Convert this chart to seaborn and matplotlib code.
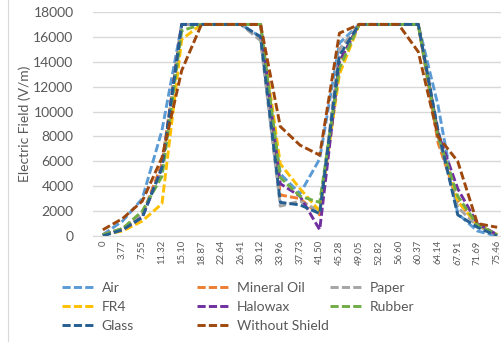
import matplotlib
matplotlib.use("Agg")
import matplotlib.pyplot as plt
import seaborn as sns
import pandas as pd
import numpy as np

positions = ["0", "3.77", "7.55", "11.32", "15.10", "18.87", "22.64", "26.41", "30.12",
             "33.96", "37.73", "41.50", "45.28", "49.05", "52.82", "56.60", "60.37",
             "64.14", "67.91", "71.69", "75.46"]

air = [100, 1200, 3000, 8500, 17000, 17000, 17000, 17000, 16000, 5000, 3400, 6200,
       15500, 17000, 17000, 17000, 17000, 10500, 1800, 400, 0]
mineral_oil = [100, 600, 1700, 5800, 17000, 17000, 17000, 17000, 17000, 3300, 3000, 1700,
               14000, 17000, 17000, 17000, 17000, 7500, 2800, 900, 100]
paper = [100, 600, 1800, 5200, 17000, 17000, 17000, 17000, 15700, 2400, 2800, 2000,
         15000, 17000, 17000, 17000, 17000, 8000, 2300, 800, 100]
fr4 = [100, 400, 1200, 2600, 15800, 17000, 17000, 17000, 17000, 5800, 3800, 2000,
       13000, 17000, 17000, 17000, 17000, 8200, 2800, 900, 100]
halowax = [100, 500, 1500, 5500, 17000, 17000, 17000, 17000, 17000, 4200, 3200, 500,
           14000, 17000, 17000, 17000, 17000, 8300, 3800, 1000, 100]
rubber = [100, 600, 2000, 4800, 16500, 17000, 17000, 17000, 17000, 4700, 3200, 2700,
          13500, 17000, 17000, 17000, 17000, 8000, 3200, 900, 100]
glass = [0, 500, 1500, 5500, 17000, 17000, 17000, 17000, 16000, 2700, 2500, 1800,
         14500, 17000, 17000, 17000, 17000, 8500, 1700, 700, 0]
without_shield = [500, 1400, 2800, 6300, 13300, 17000, 17000, 17000, 17000, 8800, 7300, 6500,
                  16300, 17000, 17000, 17000, 14800, 8000, 6000, 1000, 700]

series_names = ["Air", "Mineral Oil", "Paper", "FR4", "Halowax", "Rubber", "Glass", "Without Shield"]
series_values = [air, mineral_oil, paper, fr4, halowax, rubber, glass, without_shield]
colors = ["#5B9BD5", "#ED7D31", "#A5A5A5", "#FFC000", "#7030A0", "#70AD47", "#255E91", "#9E480E"]

rows = []
for name, vals in zip(series_names, series_values):
    for i, v in enumerate(vals):
        rows.append({"idx": i, "E": v, "Material": name})
df = pd.DataFrame(rows)

sns.set_style("white")
plt.rcParams["font.family"] = ["Lato", "DejaVu Sans"]

fig = plt.figure(figsize=(5.01, 3.42), dpi=100)
W, H = 501, 342
left, right, top, bottom = 93, 507, 12, 236
ax = fig.add_axes([left / W, (H - bottom) / H, (right - left) / W, (bottom - top) / H])

palette = dict(zip(series_names, colors))
dashes = {n: (2.8, 1.1) for n in series_names}
sns.lineplot(data=df, x="idx", y="E", hue="Material", style="Material",
             hue_order=series_names, style_order=series_names,
             palette=palette, dashes=dashes, linewidth=2.1, ax=ax, legend=True)

leg = ax.get_legend()
handles = list(leg.legend_handles)
labels = [t.get_text() for t in leg.texts]
leg.remove()
hmap = dict(zip(labels, handles))

ax.set_xlim(-0.5, 20.5)
ax.set_ylim(0, 18000)
ax.set_yticks(np.arange(0, 18001, 2000))
ax.set_xticks(range(len(positions)))
ax.set_xticklabels(positions, rotation=90, fontsize=6.8, color="#595959")
ax.tick_params(axis="y", labelsize=10, labelcolor="#595959", length=0, pad=14)
ax.tick_params(axis="x", length=0, pad=3)
ax.grid(axis="y", color="#D9D9D9", linewidth=1.0)
ax.set_axisbelow(True)
for s in ["top", "right", "left"]:
    ax.spines[s].set_visible(False)
ax.spines["bottom"].set_color("#D9D9D9")
ax.set_xlabel("")
ax.set_ylabel("Electric Field (V/m)", fontsize=10, color="#595959", labelpad=2)

# Left chart border
fig.add_artist(plt.Line2D([8 / W, 8 / W], [0, 1], color="#D9D9D9", linewidth=0.8))

columns = [["Air", "FR4", "Glass"], ["Mineral Oil", "Halowax", "Without Shield"], ["Paper", "Rubber"]]
col_x = [62, 197, 330]
for cx, col in zip(col_x, columns):
    fig.legend([hmap[n] for n in col], col, loc="upper left",
               bbox_to_anchor=(cx / W, (H - 282) / H), frameon=False, ncol=1,
               fontsize=10, handlelength=2.45, handletextpad=0.4, labelspacing=0.5,
               borderpad=0, borderaxespad=0, labelcolor="#595959")

fig.savefig("out.png", dpi=100)
